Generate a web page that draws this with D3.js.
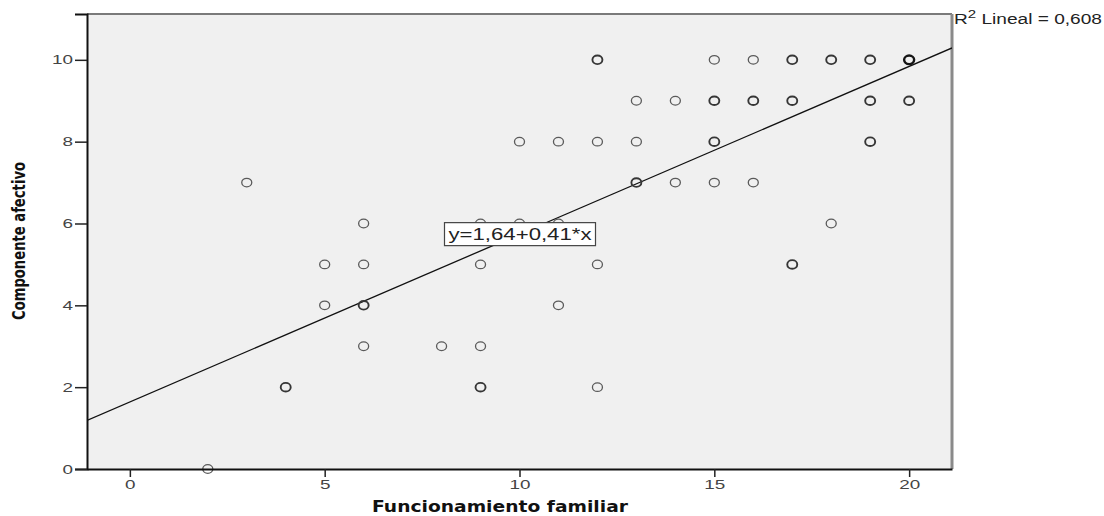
<!DOCTYPE html>
<html>
<head>
<meta charset="utf-8">
<script src="https://cdn.jsdelivr.net/npm/d3@7"></script>
<style>
  body { margin: 0; background: #fff; }
  text { font-family: "Liberation Sans", Arial, sans-serif; }
</style>
</head>
<body>
<div id="wrapper"></div>
<script>
// data
const xValues = [2, 3, 4, 5, 5, 6, 6, 6, 6, 8, 9, 9, 9, 9, 10, 10, 11, 11, 11, 12, 12, 12, 12,
  13, 13, 13, 14, 14, 15, 15, 15, 15, 16, 16, 16, 17, 17, 17, 18, 18, 19, 19, 19, 20, 20]
const yValues = [0, 7, 2, 5, 4, 6, 5, 4, 3, 3, 6, 5, 3, 2, 8, 6, 8, 6, 4, 10, 8, 5, 2,
  9, 8, 7, 9, 7, 10, 9, 8, 7, 10, 9, 7, 10, 9, 5, 10, 6, 10, 9, 8, 10, 9]
// how many cases sit on the same spot (darker rings)
const counts = [1, 1, 2, 1, 1, 1, 1, 2, 1, 1, 1, 1, 1, 2, 1, 1, 1, 1, 1, 2, 1, 1, 1,
  1, 1, 2, 1, 1, 1, 2, 2, 1, 1, 2, 1, 2, 2, 2, 2, 1, 2, 2, 2, 3, 2]

const xTicks = [0, 5, 10, 15, 20]
const yTicks = [0, 2, 4, 6, 8, 10]
const fitCoef = [1.64, 0.41]          // intercept, slope
const fitLabel = 'y=1,64+0,41*x'
const fitLabelAt = [10, 5.74]
const r2Label = ['R', '2', ' Lineal = 0,608']
const xTitle = 'Funcionamiento familiar'
const yTitle = 'Componente afectivo'

const points = xValues.map((x, i) => ({ x: x, y: yValues[i], n: counts[i] }))

//dimensions
let dimensions = {
  width: 1104,
  height: 516,
  margin: { top: 14, right: 152, bottom: 47, left: 87 }
}
dimensions.boundedWidth = dimensions.width - dimensions.margin.left - dimensions.margin.right
dimensions.boundedHeight = dimensions.height - dimensions.margin.top - dimensions.margin.bottom

const wrapper = d3.select('#wrapper')
  .append('svg')
    .attr('width', dimensions.width)
    .attr('height', dimensions.height)

const bounds = wrapper.append('g')
  .attr('transform', `translate(${dimensions.margin.left},${dimensions.margin.top})`)

//scales
const xScale = d3.scaleLinear()
  .domain([-1.1, 21.1])
  .range([0, dimensions.boundedWidth])

const yScale = d3.scaleLinear()
  .domain([0, 11.12])
  .range([dimensions.boundedHeight, 0])

//plot background + frame
bounds.append('rect')
  .attr('width', dimensions.boundedWidth)
  .attr('height', dimensions.boundedHeight)
  .attr('fill', '#f0f0f0')

bounds.append('line')
  .attr('x1', 0).attr('x2', dimensions.boundedWidth)
  .attr('y1', 0).attr('y2', 0)
  .attr('stroke', '#7a7a7a').attr('stroke-width', 2)

bounds.append('line')
  .attr('x1', dimensions.boundedWidth).attr('x2', dimensions.boundedWidth)
  .attr('y1', 0).attr('y2', dimensions.boundedHeight)
  .attr('stroke', '#8a8a8a').attr('stroke-width', 3)

//clip
wrapper.append('defs').append('clipPath').attr('id', 'plotclip')
  .append('rect')
    .attr('width', dimensions.boundedWidth)
    .attr('height', dimensions.boundedHeight)

//fit line
const fit = x => fitCoef[0] + fitCoef[1] * x
bounds.append('line')
  .attr('clip-path', 'url(#plotclip)')
  .attr('x1', xScale(xScale.domain()[0]))
  .attr('y1', yScale(fit(xScale.domain()[0])))
  .attr('x2', xScale(xScale.domain()[1]))
  .attr('y2', yScale(fit(xScale.domain()[1])))
  .attr('stroke', '#111')
  .attr('stroke-width', 1.3)

//points
const ringColor = d3.scaleOrdinal().domain([1, 2, 3]).range(['#5a5a5a', '#363636', '#151515'])
const ringWidth = d3.scaleOrdinal().domain([1, 2, 3]).range([1.3, 1.9, 2.4])

bounds.append('g')
  .selectAll('ellipse')
  .data(points)
  .join('ellipse')
    .attr('cx', d => xScale(d.x))
    .attr('cy', d => yScale(d.y))
    .attr('rx', 5)
    .attr('ry', 4.3)
    .attr('fill', 'none')
    .attr('stroke', d => ringColor(d.n))
    .attr('stroke-width', d => ringWidth(d.n))

//axes (labels look stretched sideways in the source, so force their width)
const styleTickText = sel => sel
  .attr('fill', '#444')
  .attr('textLength', d => String(d).length * 10.5)
  .attr('lengthAdjust', 'spacingAndGlyphs')
  .style('font-size', '13px')
  .style('font-family', '"Liberation Sans", Arial, sans-serif')

const yAxis = d3.axisLeft(yScale)
  .tickValues(yTicks)
  .tickSize(12)
  .tickPadding(2)
  .tickFormat(d3.format('d'))

const yAxisGroup = bounds.append('g').call(yAxis)
yAxisGroup.select('.domain').attr('stroke', '#111').attr('stroke-width', 2)
yAxisGroup.selectAll('.tick line').attr('stroke', '#222').attr('stroke-width', 1.5)
yAxisGroup.selectAll('.tick text').call(styleTickText)

const xAxis = d3.axisBottom(xScale)
  .tickValues(xTicks)
  .tickSize(8)
  .tickSizeOuter(0)
  .tickPadding(3)
  .tickFormat(d3.format('d'))

const xAxisGroup = bounds.append('g')
  .attr('transform', `translate(0,${dimensions.boundedHeight})`)
  .call(xAxis)
xAxisGroup.select('.domain').attr('stroke', '#111').attr('stroke-width', 2)
xAxisGroup.selectAll('.tick line').attr('stroke', '#222').attr('stroke-width', 1.5)
xAxisGroup.selectAll('.tick text').call(styleTickText)

//fit equation box
const labelG = bounds.append('g')
  .attr('transform', `translate(${xScale(fitLabelAt[0])},${yScale(fitLabelAt[1])})`)

labelG.append('rect')
  .attr('x', -75).attr('y', -11.5)
  .attr('width', 151).attr('height', 23)
  .attr('fill', '#fff')
  .attr('stroke', '#444')
  .attr('stroke-width', 1.2)

labelG.append('text')
  .attr('x', -71)
  .attr('y', 6)
  .attr('textLength', 143)
  .attr('lengthAdjust', 'spacingAndGlyphs')
  .attr('fill', '#222')
  .style('font-size', '16px')
  .text(fitLabel)

//R² legend
const r2 = wrapper.append('text')
  .attr('x', dimensions.margin.left + dimensions.boundedWidth + 2)
  .attr('y', 24)
  .attr('textLength', 148)
  .attr('lengthAdjust', 'spacingAndGlyphs')
  .attr('fill', '#222')
  .style('font-size', '14px')
r2.append('tspan').text(r2Label[0])
r2.append('tspan').attr('dy', -6).style('font-size', '11px').text(r2Label[1])
r2.append('tspan').attr('dy', 6).text(r2Label[2])

//axis titles
wrapper.append('text')
  .attr('x', 372)
  .attr('y', 512)
  .attr('textLength', 256)
  .attr('lengthAdjust', 'spacingAndGlyphs')
  .attr('fill', '#111')
  .style('font-family', '"DejaVu Sans", Verdana, sans-serif')
  .style('font-weight', 'bold')
  .style('font-size', '15px')
  .text(xTitle)

wrapper.append('text')
  .attr('transform', 'translate(25,241) rotate(-90)')
  .attr('text-anchor', 'middle')
  .attr('textLength', 158)
  .attr('lengthAdjust', 'spacingAndGlyphs')
  .attr('fill', '#111')
  .style('font-family', '"Liberation Sans Narrow", "DejaVu Sans Condensed", sans-serif')
  .style('font-weight', 'bold')
  .style('font-size', '18px')
  .text(yTitle)
</script>
</body>
</html>
